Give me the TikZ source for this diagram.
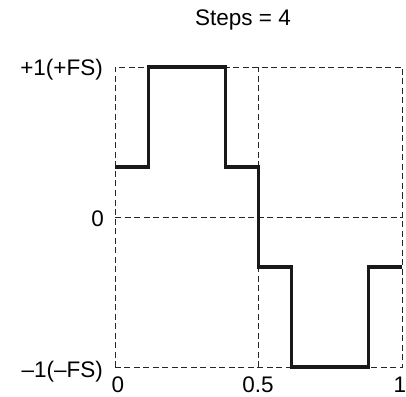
\documentclass[tikz,border=0pt]{standalone}
\usepackage{fontspec}
\setmainfont{Liberation Sans}
\usepackage{tikz}

\begin{document}
\begin{tikzpicture}[x=287pt,y=150pt]
			\tikzstyle{grid} = [dash pattern=on 6pt off 3.5pt, line width=0.9pt, black!85]
			\tikzstyle{wave} = [line width=3.4pt, black!90, line join=miter]
			\tikzstyle{label} = [font=\fontsize{22.5}{26}\selectfont, inner sep=0pt]
			
			\useasboundingbox (-115pt,-179pt) rectangle (291pt,217pt);
			
			\draw[grid] (0,-1) rectangle (1,1);
			\draw[grid] (0.5,-1) -- (0.5,1);
			\draw[grid] (0,0) -- (1,0);
			
			\draw[wave] (0,1/3) -- (0.116,1/3) -- (0.116,1) -- (0.384,1) -- (0.384,1/3)
				-- (0.5,1/3) -- (0.5,-1/3) -- (0.616,-1/3) -- (0.616,-1) -- (0.884,-1)
				-- (0.884,-1/3) -- (1,-1/3);
			
			\node[label, anchor=base](title) at (128pt,191pt) {Steps = 4};
			
			\node[label, anchor=base east](fsplus) at (-12pt,141pt) {+1(+FS)};
			\node[label, anchor=base east](yzero) at (-11pt,-9pt) {0};
			\node[label, anchor=base east](fsminus) at (-12pt,-160pt) {--1(--FS)};
			
			\node[label, anchor=base](xzero) at (3pt,-175pt) {0};
			\node[label, anchor=base](xhalf) at (143pt,-175pt) {0.5};
			\node[label, anchor=base](xone) at (285pt,-175pt) {1};
			
			\end{tikzpicture}
\end{document}
